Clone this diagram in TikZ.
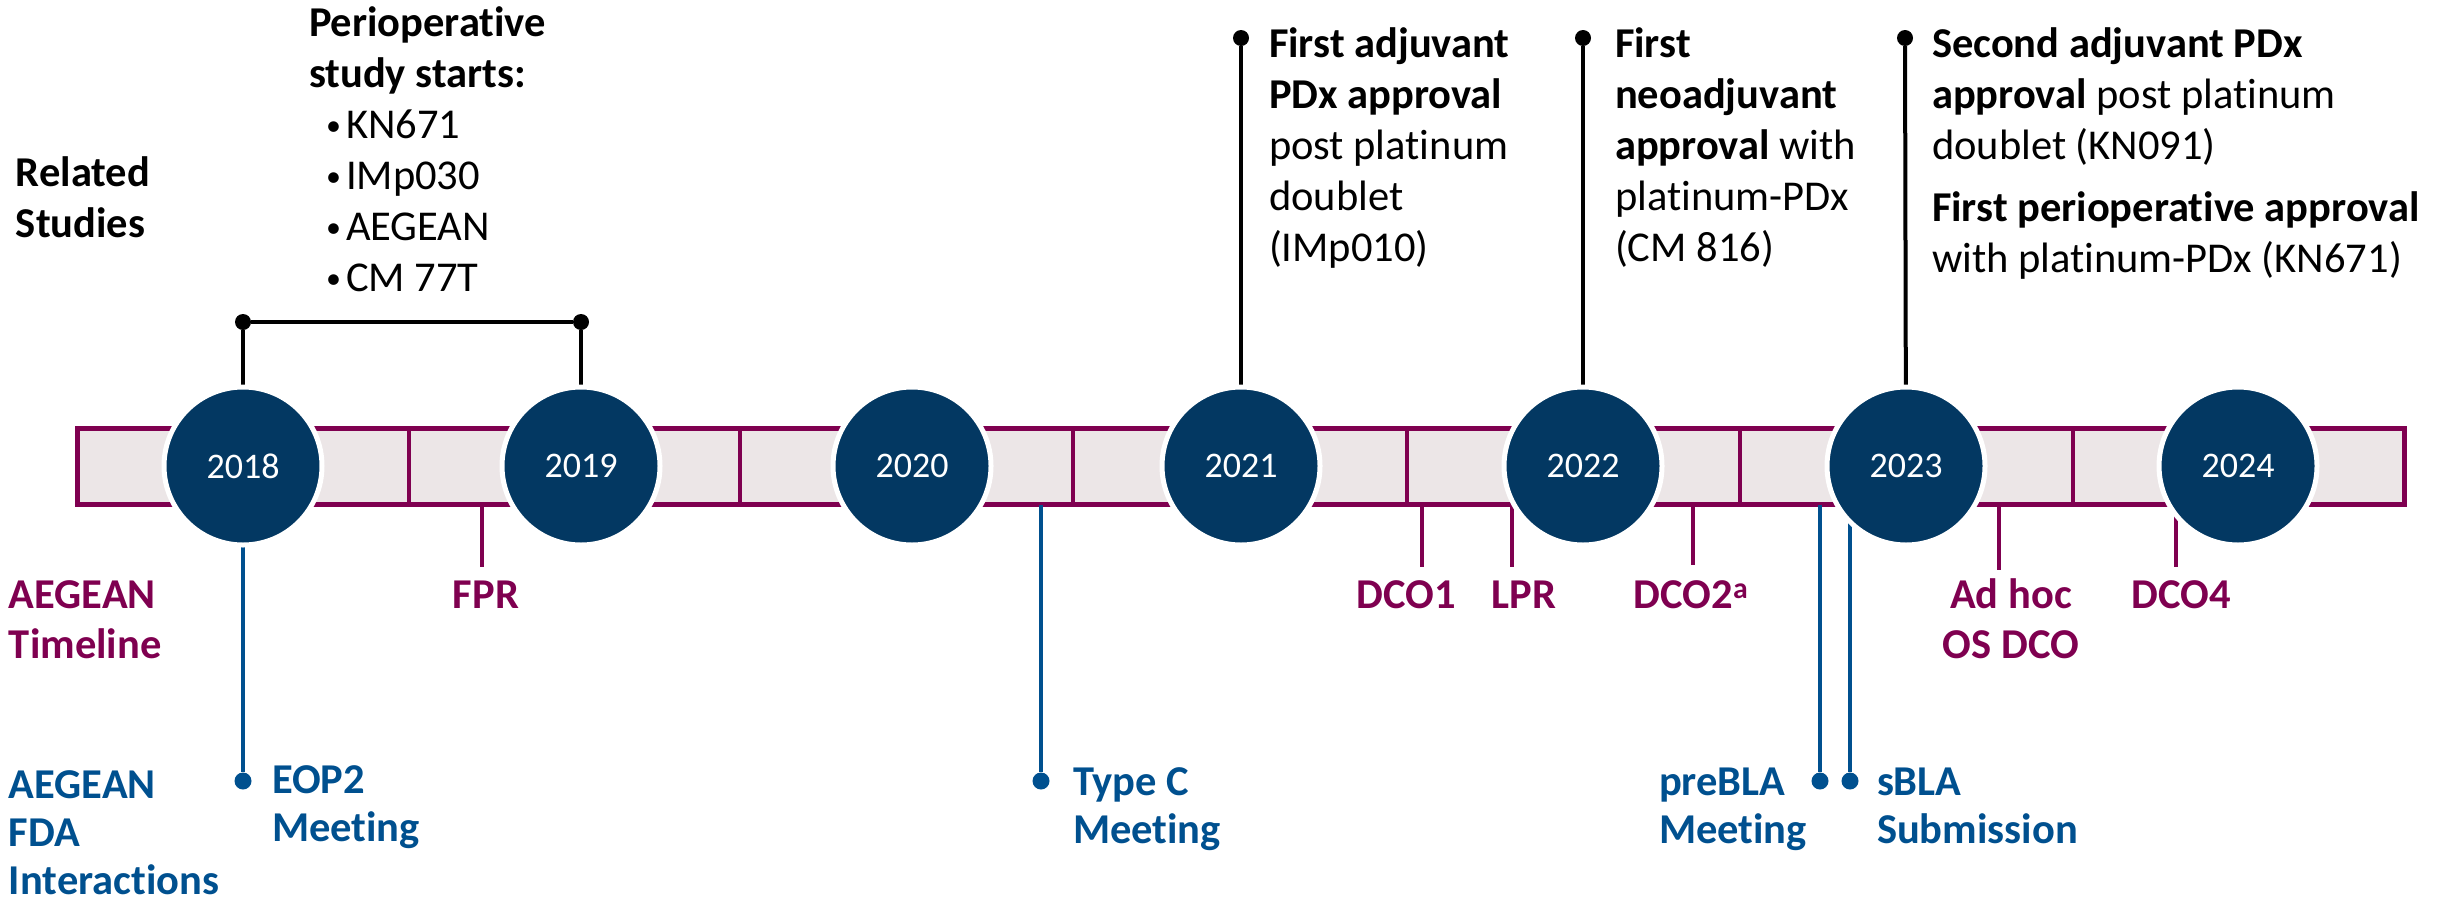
\documentclass[tikz,border=0pt]{standalone}
\usepackage{fontspec}
\setmainfont{Carlito}[Ligatures=NoCommon]
\definecolor{maroon}{HTML}{7F0050}
\definecolor{fdablue}{HTML}{00508F}
\definecolor{navy}{HTML}{033862}
\definecolor{barfill}{HTML}{ECE6E7}
\newcommand{\itembullet}{\makebox[20pt][l]{\raisebox{3pt}{\fontsize{30}{30}\selectfont •}}}
\begin{document}
\begin{tikzpicture}[x=1pt,y=-1pt,
  % multi-line labels are placed by the baseline of their last line
  label/.style={inner sep=0pt, outer sep=0pt, align=left, anchor=base west,
                font=\fontsize{42.5}{51}\selectfont},
  blabel/.style={label, text=fdablue, font=\fontsize{42.5}{48}\selectfont\bfseries},
  mlabel/.style={label, text=maroon, font=\fontsize{42.5}{50}\selectfont\bfseries},
  klabel/.style={label, font=\fontsize{42.5}{51}\selectfont\bfseries},
  yearnode/.style={circle, minimum size=158, inner sep=0pt, outer sep=0pt,
                   fill=navy, draw=white, line width=5, text=white,
                   font=\fontsize{36}{43}\selectfont},
  blackdot/.style={circle, fill=black, inner sep=0pt, minimum size=16},
  bluedot/.style={circle, fill=fdablue, inner sep=0pt, minimum size=17},
  blackline/.style={draw=black, line width=4},
  blueline/.style={draw=fdablue, line width=4},
  tick/.style={draw=maroon, line width=4},
  timebar/.style={rectangle, draw=maroon, fill=barfill, line width=5,
                  minimum width=2327, minimum height=76, inner sep=0pt, outer sep=0pt}
]
\useasboundingbox (0,0) rectangle (2448,913);

% timeline bar and its year dividers
\node[timebar] (bar) at (1241,466.5) {};
\foreach \x in {409,740,1073,1407,1740,2073}
  \draw[maroon, line width=4] (\x,428.5) -- (\x,504.5);

% study milestone ticks below the bar
\coordinate (tFPR) at (482,567);
\coordinate (tDCO1) at (1422,567);
\coordinate (tLPR) at (1512,567);
\coordinate (tDCO2) at (1693,565);
\coordinate (tAdhoc) at (1999,570);
\coordinate (tDCO4) at (2176,567);
\foreach \t in {tFPR,tDCO1,tLPR,tDCO2,tAdhoc,tDCO4}
  \draw[tick] (bar.south -| \t) -- (\t);

% FDA interaction markers
\node[bluedot] (eop2) at (243,781) {};
\node[bluedot] (typec) at (1041,781) {};
\node[bluedot] (prebla) at (1820,781) {};
\node[bluedot] (sbla) at (1850,781) {};

% approval markers above the bar
\node[blackdot] (d2021) at (1241,38) {};
\node[blackdot] (d2022) at (1583,38) {};
\node[blackdot] (d2023) at (1905,38) {};
\node[blackdot] (b1) at (243,322) {};
\node[blackdot] (b2) at (581,322) {};

% year circle centres (connectors run underneath the circles)
\path (243,466) coordinate (c2018) (581,466) coordinate (c2019)
      (1241,466) coordinate (c2021) (1583,466) coordinate (c2022)
      (1906,466) coordinate (c2023);

\draw[blueline] (c2018) -- (eop2);
\draw[blueline] (bar.south -| typec) -- (typec);
\draw[blueline] (bar.south -| prebla) -- (prebla);
\draw[blueline] (bar.south -| sbla) -- (sbla);

\draw[blackline] (b1) -- (b2);
\draw[blackline] (b1) -- (c2018);
\draw[blackline] (b2) -- (c2019);
\draw[blackline] (d2021) -- (c2021);
\draw[blackline] (d2022) -- (c2022);
\draw[blackline] (d2023) -- (c2023);

\node[yearnode] (y2018) at (c2018) {2018};
\node[yearnode] (y2019) at (c2019) {2019};
\node[yearnode] (y2020) at (912,466) {2020};
\node[yearnode] (y2021) at (c2021) {2021};
\node[yearnode] (y2022) at (c2022) {2022};
\node[yearnode] (y2023) at (c2023) {2023};
\node[yearnode] (y2024) at (2238,466) {2024};

% row headings
\node[klabel] (related) at (16,237) {Related\\Studies};
\node[mlabel] (aegeantl) at (9,658) {AEGEAN\\Timeline};
\node[blabel] (aegeanfda) at (9,894) {AEGEAN\\FDA\\Interactions};

% related studies and approvals
\node[klabel] (peri) at (309,87) {Perioperative\\study starts:};
\node[label] (perilist) at (326,291)
  {\itembullet KN671\\\itembullet IMp030\\\itembullet AEGEAN\\\itembullet CM 77T};
\node[label] (a2021) at (1269,261)
  {\textbf{First adjuvant}\\\textbf{PDx approval}\\post platinum\\doublet\\(IMp010)};
\node[label] (a2022) at (1615,261)
  {\textbf{First}\\\textbf{neoadjuvant}\\\textbf{approval} with\\platinum-PDx\\(CM 816)};
\node[label] (a2023) at (1932,159)
  {\textbf{Second adjuvant PDx}\\\textbf{approval} post platinum\\doublet (KN091)};
\node[label] (a2023b) at (1932,272)
  {\textbf{First perioperative approval}\\with platinum-PDx (KN671)};

% AEGEAN timeline labels
\node[mlabel, anchor=base] (lFPR) at (486,608) {FPR};
\node[mlabel, anchor=base] (lDCO1) at (1406,608) {DCO1};
\node[mlabel, anchor=base] (lLPR) at (1524,608) {LPR};
\node[mlabel, anchor=base] (lDCO2) at (1691,608) {DCO2\textsuperscript{a}};
\node[mlabel, anchor=base, align=center] (lAdhoc) at (2011,658) {Ad hoc\\OS DCO};
\node[mlabel, anchor=base] (lDCO4) at (2181,608) {DCO4};

% FDA interaction labels
\node[blabel] (leop2) at (272,841) {EOP2\\Meeting};
\node[blabel] (ltypec) at (1073,843) {Type C\\Meeting};
\node[blabel] (lprebla) at (1659,843) {preBLA\\Meeting};
\node[blabel] (lsbla) at (1877,843) {sBLA\\Submission};
\end{tikzpicture}
\end{document}
